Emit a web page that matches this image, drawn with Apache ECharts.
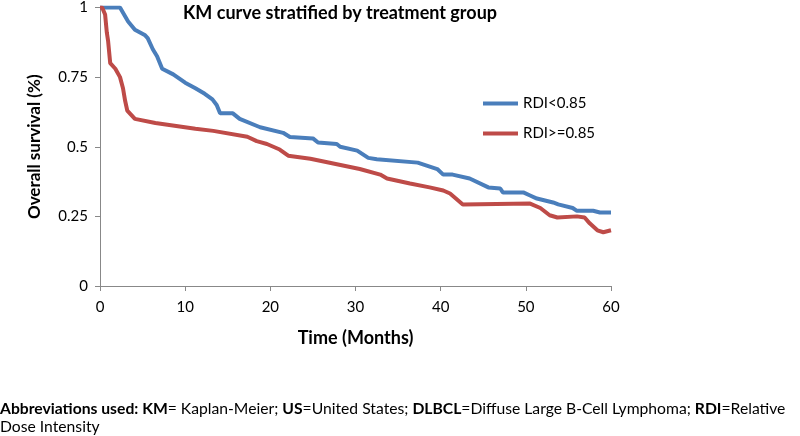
<!DOCTYPE html>
<html>
<head>
<meta charset="utf-8">
<script src="https://cdn.jsdelivr.net/npm/echarts@6/dist/echarts.min.js"></script>
<style>
  html, body { margin: 0; padding: 0; background: #fff; }
  #chart { width: 800px; height: 436px; }
</style>
</head>
<body>
<div id="chart"></div>
<script>
// KM curve (months, survival)
const lowMonths = [0, 2.35, 3.3, 4.1, 5.3, 5.6, 6.2, 6.7, 7.3, 8.6, 10, 11.2, 12.3, 13.2, 13.7, 14.1, 15.6, 16.4, 18.8, 21.5, 22.3, 25, 25.6, 27.8, 28.2, 30.2, 31.5, 32.5, 37.3, 39.6, 40.3, 41.4, 43.4, 45.6, 47, 47.3, 49.7, 50.5, 51.3, 53.2, 53.8, 55.5, 56, 57.9, 58.7, 60]
const lowSurv = [1, 1, 0.95, 0.92, 0.9, 0.89, 0.85, 0.825, 0.78, 0.76, 0.73, 0.71, 0.69, 0.67, 0.65, 0.62, 0.62, 0.6, 0.57, 0.55, 0.535, 0.53, 0.515, 0.51, 0.5, 0.486, 0.46, 0.455, 0.443, 0.42, 0.4, 0.4, 0.386, 0.354, 0.35, 0.336, 0.336, 0.325, 0.314, 0.3, 0.293, 0.28, 0.27, 0.27, 0.264, 0.264]
const highMonths = [0, 0.25, 0.6, 0.8, 0.95, 1.2, 1.8, 2.35, 2.7, 2.95, 3.2, 4.1, 6.5, 11.2, 13.3, 17.3, 18.4, 19.6, 21.1, 22.1, 24.7, 30.5, 32.9, 33.7, 36.4, 38.7, 40.3, 41.1, 42.6, 50.5, 51.7, 52.8, 53.7, 56, 56.9, 57.5, 58.4, 59.1, 60]
const highSurv = [1, 1, 0.975, 0.91, 0.88, 0.8, 0.78, 0.75, 0.71, 0.665, 0.63, 0.6, 0.585, 0.565, 0.557, 0.536, 0.52, 0.51, 0.49, 0.468, 0.457, 0.42, 0.4, 0.386, 0.368, 0.354, 0.343, 0.332, 0.293, 0.296, 0.28, 0.254, 0.246, 0.25, 0.246, 0.225, 0.2, 0.193, 0.2]
const seriesNames = ['RDI<0.85', 'RDI>=0.85']

const pairs = (xs, ys) => xs.map((x, i) => [x, ys[i]])

const chart = echarts.init(document.getElementById('chart'))
const font = 'Lato'
chart.setOption({
    animation: false,
    textStyle: { fontFamily: font },
    title: [
        {
            text: 'KM curve stratified by treatment group',
            left: 183,
            top: 4,
            padding: 0,
            textStyle: { fontSize: 18, fontWeight: 'bold', color: '#000', fontFamily: font }
        },
        {
            text: '{b|Abbreviations used: KM}{n|= Kaplan-Meier; }{b|US}{n|=United States; }{b|DLBCL}{n|=Diffuse Large B-Cell Lymphoma; }{b|RDI}{n|=Relative}\n{n|Dose Intensity}',
            left: 0,
            top: 400,
            padding: 0,
            textStyle: {
                fontWeight: 'normal',
                rich: {
                    b: { fontSize: 15.7, fontWeight: 'bold', color: '#000', fontFamily: font, lineHeight: 18 },
                    n: { fontSize: 15.7, fontWeight: 'normal', color: '#000', fontFamily: font, lineHeight: 18 }
                }
            }
        }
    ],
    legend: {
        orient: 'vertical',
        left: 478,
        top: 91,
        itemWidth: 35,
        itemHeight: 4,
        itemGap: 15,
        icon: 'rect',
        textStyle: { fontSize: 15, color: '#000', fontFamily: font },
        data: seriesNames
    },
    grid: { left: 100, right: 189, top: 6, bottom: 150 },
    xAxis: {
        type: 'value',
        min: 0,
        max: 60,
        interval: 10,
        name: 'Time (Months)',
        nameLocation: 'middle',
        nameGap: 43,
        nameTextStyle: { fontSize: 18, fontWeight: 'bold', color: '#000', fontFamily: font },
        axisLine: { lineStyle: { color: '#888' } },
        axisTick: { show: true, length: 5, lineStyle: { color: '#888' } },
        axisLabel: { fontSize: 15, color: '#000', margin: 14 },
        splitLine: { show: false }
    },
    yAxis: {
        type: 'value',
        min: 0,
        max: 1,
        interval: 0.25,
        name: 'Overall survival (%)',
        nameLocation: 'middle',
        nameGap: 57,
        nameTextStyle: { fontSize: 17, fontWeight: 'bold', color: '#000', fontFamily: font },
        axisLine: { show: true, lineStyle: { color: '#888' } },
        axisTick: { show: true, length: 5, lineStyle: { color: '#888' } },
        axisLabel: { fontSize: 15, color: '#000', margin: 12 },
        splitLine: { show: false }
    },
    series: [
        {
            name: seriesNames[0],
            type: 'line',
            showSymbol: false,
            symbol: 'none',
            data: pairs(lowMonths, lowSurv),
            lineStyle: { width: 4, color: '#4A7EBB' },
            itemStyle: { color: '#4A7EBB' }
        },
        {
            name: seriesNames[1],
            type: 'line',
            showSymbol: false,
            symbol: 'none',
            data: pairs(highMonths, highSurv),
            lineStyle: { width: 4, color: '#BE4B48' },
            itemStyle: { color: '#BE4B48' }
        }
    ]
})
</script>
</body>
</html>
